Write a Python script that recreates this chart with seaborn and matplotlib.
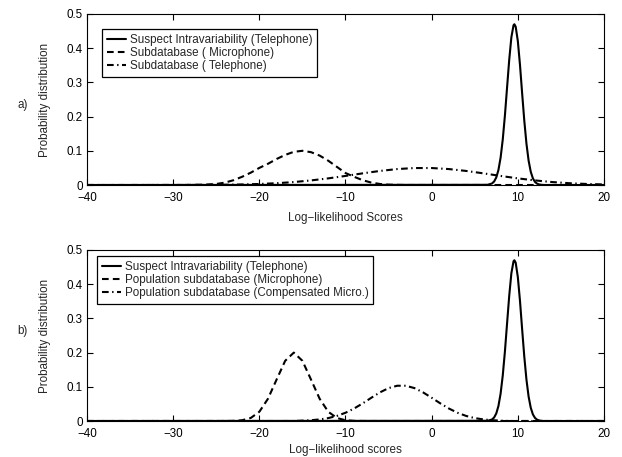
import numpy as np
import pandas as pd
import matplotlib
matplotlib.use("Agg")
import matplotlib.pyplot as plt
import seaborn as sns

# ---------------- data ----------------
# Suspect intravariability (Telephone) - same in both panels
suspect_x = [-40, 6.5, 7.0, 7.25, 7.5, 7.75, 8.0, 8.25, 8.5, 8.75, 9.0, 9.25, 9.5, 9.6,
             9.75, 10.0, 10.25, 10.5, 10.75, 11.0, 11.25, 11.5, 11.75, 12.0, 12.25,
             12.5, 12.75, 13.0, 20]
suspect_y = [0, 0.0006, 0.0044, 0.0103, 0.0222, 0.044, 0.080, 0.133, 0.203, 0.285, 0.366,
             0.432, 0.467, 0.470, 0.463, 0.421, 0.351, 0.268, 0.188, 0.121, 0.0714,
             0.0386, 0.0192, 0.0087, 0.0036, 0.0014, 0.0005, 0, 0]

# panel a) Subdatabase (Microphone)
a_mic_x = [-40, -29, -28, -27, -26, -25, -24, -23, -22, -21, -20, -19, -18, -17, -16,
           -15, -14, -13, -12, -11, -10, -9, -8, -7, -6, -5, -4, -3, 20]
a_mic_y = [0, 0, 0.0004, 0.0008, 0.0015, 0.003, 0.007, 0.014, 0.024, 0.036, 0.050,
           0.062, 0.076, 0.088, 0.097, 0.100, 0.096, 0.086, 0.071, 0.053, 0.035,
           0.024, 0.014, 0.007, 0.003, 0.001, 0.0004, 0, 0]

# panel a) Subdatabase (Telephone)
a_tel_x = [-40, -35, -30, -26, -24, -22, -20, -18, -16, -14, -12, -10, -8, -6, -4,
           -2, 0, 2, 4, 6, 8, 10, 12, 14, 16, 18, 20]
a_tel_y = [0, 0, 0.0001, 0.0002, 0.0008, 0.0016, 0.0030, 0.0052, 0.0086, 0.0134,
           0.0194, 0.0265, 0.0341, 0.0411, 0.0466, 0.0496, 0.0496, 0.0466, 0.0411,
           0.0341, 0.0265, 0.0194, 0.0134, 0.0086, 0.0052, 0.0030, 0.0016]

# panel b) Population subdatabase (Microphone)
b_mic_x = [-40, -25, -24, -23, -22, -21, -20, -19, -18, -17, -16, -15, -14, -13, -12,
           -11, -10, -9, -8, -7, 20]
b_mic_y = [0, 0, 0.0001, 0.0004, 0.0022, 0.0088, 0.027, 0.065, 0.121, 0.176, 0.200,
           0.176, 0.121, 0.065, 0.027, 0.0088, 0.0022, 0.0004, 0.0001, 0, 0]

# panel b) Population subdatabase (Compensated Micro.)
b_comp_x = [-40, -16, -15, -14, -13, -12, -11, -10, -9, -8, -7, -6, -5, -4, -3, -2, -1,
            0, 1, 2, 3, 4, 5, 6, 7, 8, 9, 20]
b_comp_y = [0, 0, 0.0010, 0.0023, 0.0046, 0.0085, 0.0148, 0.0241, 0.0365, 0.0516,
            0.0680, 0.0837, 0.0962, 0.1031, 0.1031, 0.0962, 0.0837, 0.0680, 0.0516,
            0.0365, 0.0241, 0.0148, 0.0085, 0.0046, 0.0023, 0.0010, 0, 0]

labels_a = ["Suspect Intravariability (Telephone)",
            "Subdatabase ( Microphone)",
            "Subdatabase ( Telephone)"]
labels_b = ["Suspect Intravariability (Telephone)",
            "Population subdatabase (Microphone)",
            "Population subdatabase (Compensated Micro.)"]
x_ticks = [-40, -30, -20, -10, 0, 10, 20]
y_ticks = [0, 0.1, 0.2, 0.3, 0.4, 0.5]
xlabels = ["Log\u2212likelihood Scores", "Log\u2212likelihood scores"]
panel_tags = ["a)", "b)"]

# ---------------- style ----------------
sns.set_style("ticks")
plt.rcParams["font.family"] = ["Liberation Sans", "DejaVu Sans"]
FS = 8.4
plt.rcParams["font.size"] = FS
plt.rcParams["lines.scale_dashes"] = False

W, H = 622, 457
fig = plt.figure(figsize=(W / 100, H / 100), dpi=100)

def frac(x0, y0, x1, y1):
    return [x0 / W, 1 - y1 / H, (x1 - x0) / W, (y1 - y0) / H]

ax_a = fig.add_axes(frac(87, 14, 604, 185))
ax_b = fig.add_axes(frac(87, 250, 604, 421))

solid = "-"
dashed = (0, (4.8, 3.0))
dashdot = (0, (4.8, 2.5, 1.0, 2.5))
lw = 1.5

panels = [
    (ax_a, [(suspect_x, suspect_y, solid), (a_mic_x, a_mic_y, dashed),
            (a_tel_x, a_tel_y, dashdot)], labels_a, (102, 29), 5.5),
    (ax_b, [(suspect_x, suspect_y, solid), (b_mic_x, b_mic_y, dashed),
            (b_comp_x, b_comp_y, dashdot)], labels_b, (97, 256), 3.0),
]

for i, (ax, series, labels, legpos, xpad) in enumerate(panels):
    for (xs, ys, ls), lab in zip(series, labels):
        df = pd.DataFrame({"x": xs, "y": ys})
        sns.lineplot(data=df, x="x", y="y", ax=ax, color="black", lw=lw,
                     linestyle=ls, label=lab, sort=True, estimator=None)
    ax.set_xlim(-40, 20)
    ax.set_ylim(0, 0.5)
    ax.set_xticks(x_ticks)
    ax.set_yticks(y_ticks)
    ax.set_xticklabels([str(t).replace("-", "\u2212") for t in x_ticks])
    ax.set_yticklabels(["0"] + [f"{t:.1f}" for t in y_ticks[1:]])
    ax.tick_params(direction="in", length=4, width=0.8, top=True, right=True,
                   labelsize=FS, color="black", labelcolor="black")
    ax.tick_params(axis="x", pad=5)
    ax.tick_params(axis="y", pad=3)
    for sp in ax.spines.values():
        sp.set_visible(True)
        sp.set_linewidth(0.8)
        sp.set_color("black")
    ax.set_xlabel(xlabels[i], fontsize=FS, labelpad=xpad)
    ax.set_ylabel("Probability distribution", fontsize=FS, labelpad=11.5)
    leg = ax.legend(loc="upper left",
                    bbox_to_anchor=(legpos[0] / W, 1 - legpos[1] / H),
                    bbox_transform=fig.transFigure, borderaxespad=0,
                    frameon=True, fancybox=False, fontsize=FS,
                    handlelength=1.6, handletextpad=0.35, labelspacing=0.08,
                    borderpad=0.42)
    leg.get_frame().set_edgecolor("black")
    leg.get_frame().set_linewidth(0.9)
    leg.get_frame().set_alpha(1)

fig.text(22.5 / W, 1 - 105 / H, panel_tags[0], ha="center", va="center", fontsize=FS)
fig.text(22.5 / W, 1 - 331 / H, panel_tags[1], ha="center", va="center", fontsize=FS)

fig.savefig("out.png", dpi=100, facecolor="white")
